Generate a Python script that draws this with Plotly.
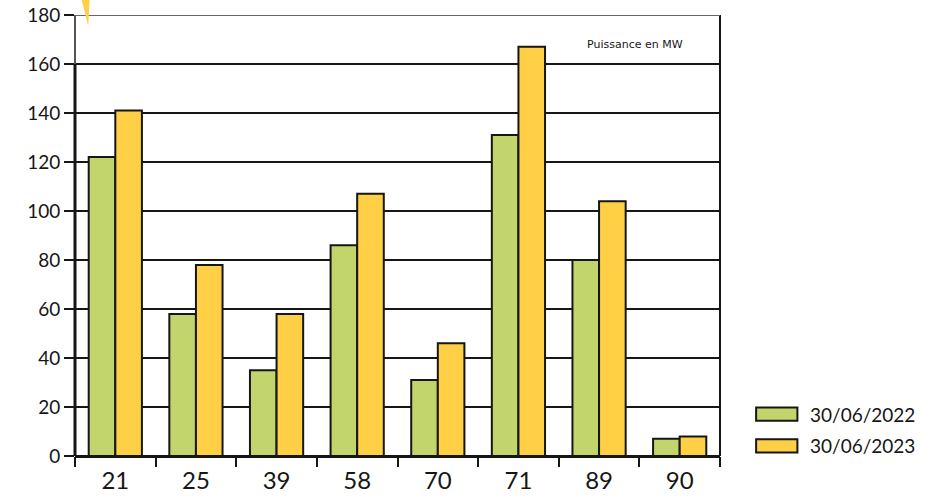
import plotly.graph_objects as go

# Installed capacity per département (MW)
departements = ["21", "25", "39", "58", "70", "71", "89", "90"]
puissance_2022 = [122, 58, 35, 86, 31, 131, 80, 7]
puissance_2023 = [141, 78, 58, 107, 46, 167, 104, 8]
series_labels = ["30/06/2022", "30/06/2023"]
y_ticks = [0, 20, 40, 60, 80, 100, 120, 140, 160, 180]

GREEN = "#C2D56C"
YELLOW = "#FFCF45"
INK = "#161616"
FONT = "Lato"

fig = go.Figure()
for vals, color, name in [(puissance_2022, GREEN, series_labels[0]),
                          (puissance_2023, YELLOW, series_labels[1])]:
    fig.add_trace(go.Bar(
        x=departements, y=vals, name=name,
        marker=dict(color=color, line=dict(color=INK, width=2)),
        showlegend=False,
    ))

fig.update_layout(
    width=942, height=496,
    margin=dict(l=75, r=222, t=15, b=40),
    paper_bgcolor="white", plot_bgcolor="white",
    barmode="group", bargap=0.34, bargroupgap=0,
    font=dict(family=FONT, color=INK),
)
fig.update_xaxes(
    type="category", tickson="boundaries", automargin=False,
    ticks="outside", ticklen=10, tickwidth=2, tickcolor=INK,
    ticklabelstandoff=8,
    showline=False, showgrid=False,
    tickfont=dict(size=24, color=INK, family=FONT),
)
fig.update_yaxes(
    range=[0, 180], tickvals=y_ticks, automargin=False,
    ticks="outside", ticklen=10, tickwidth=2, tickcolor=INK,
    showline=False,
    showgrid=True, gridwidth=2, gridcolor=INK,
    zeroline=True, zerolinewidth=3, zerolinecolor=INK,
    tickfont=dict(size=19, color=INK, family=FONT),
)

shapes = [
    # left axis: heavy up to 160, light above
    dict(type="line", xref="paper", yref="y", x0=0, x1=0, y0=0, y1=160,
         line=dict(color=INK, width=3)),
    dict(type="line", xref="paper", yref="y", x0=0, x1=0, y0=160, y1=180,
         line=dict(color="#555555", width=2)),
    # right frame edge
    dict(type="line", xref="paper", yref="paper", x0=1, x1=1, y0=0, y1=1,
         line=dict(color=INK, width=2)),
    # top grid line drawn lighter
    dict(type="line", xref="paper", yref="y", x0=0, x1=1, y0=180, y1=180,
         line=dict(color="#666666", width=2)),
    # decorative bolt tip in the corner
    dict(type="path", xref="paper", yref="paper",
         path="M 0.0105 1.034 L 0.0225 1.034 L 0.0205 0.975 Z",
         fillcolor="#FFCF45", line=dict(width=0)),
]

annotations = [
    dict(text="Puissance en MW", xref="paper", yref="paper",
         x=0.868, y=0.932, showarrow=False, xanchor="center", yanchor="middle",
         font=dict(size=11, color=INK, family="DejaVu Sans")),
]

# Legend drawn as swatches beside the plot
for i, (name, color) in enumerate(zip(series_labels, [GREEN, YELLOW])):
    y_mid = 0.095 - i * 0.072
    shapes.append(dict(type="rect", xref="paper", yref="paper",
                       x0=1.056, x1=1.12, y0=y_mid - 0.015, y1=y_mid + 0.015,
                       fillcolor=color, line=dict(color=INK, width=2)))
    annotations.append(dict(text=name, xref="paper", yref="paper",
                            x=1.137, y=y_mid, showarrow=False,
                            xanchor="left", yanchor="middle",
                            font=dict(size=19, color=INK, family=FONT)))

fig.update_layout(shapes=shapes, annotations=annotations)
fig.write_html("out.html")
